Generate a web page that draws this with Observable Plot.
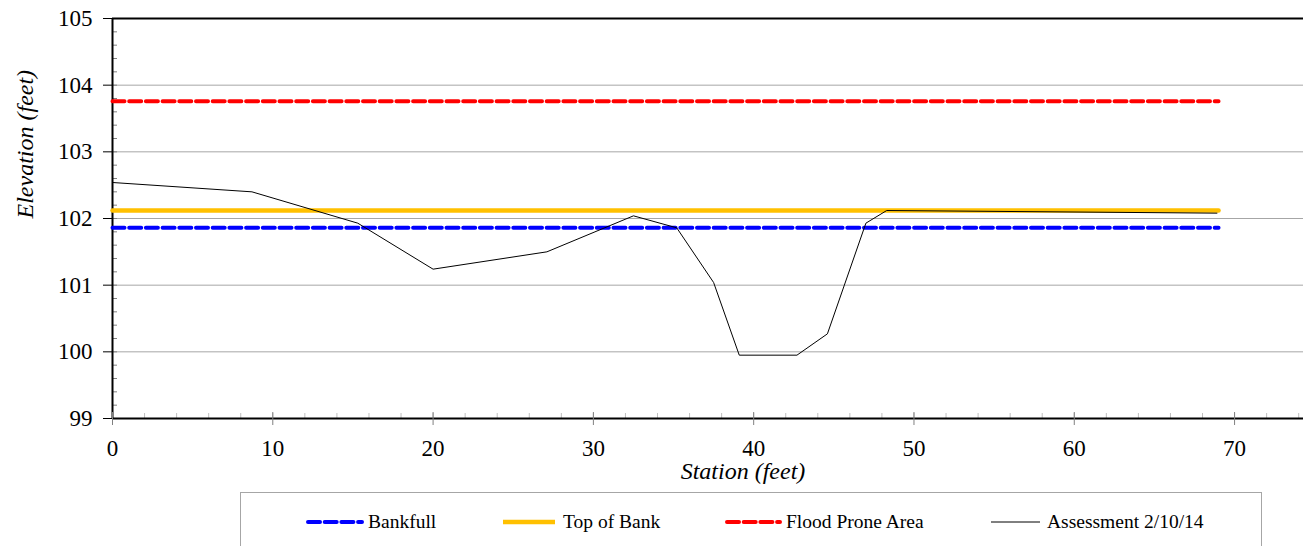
<!DOCTYPE html>
<html><head><meta charset="utf-8">
<script src="https://cdn.jsdelivr.net/npm/d3@7"></script>
<script src="https://cdn.jsdelivr.net/npm/@observablehq/plot@0.6"></script>
<style>
body{margin:0;background:#fff;font-family:"Liberation Serif","Times New Roman",serif;}
#wrap{position:relative;width:1303px;height:546px;overflow:hidden;background:#fff;}
#legend{position:absolute;left:240px;top:492px;width:1022px;height:70px;border:1px solid #a6a6a6;box-sizing:border-box;}
.item{position:absolute;top:17px;height:24px;display:flex;align-items:center;font-size:19.5px;color:#000;white-space:nowrap;}
.item svg{margin-right:4px;}
</style>
</head><body>
<div id="wrap"><div id="chart"></div><div id="legend"></div></div>
<script>
// Assessment survey (station, elevation)
const station   = [0, 8.7, 15.3, 20.0, 27.1, 32.5, 35.2, 37.5, 39.1, 42.7, 44.6, 47.0, 48.3, 68.9];
const elevation = [102.54, 102.40, 101.93, 101.24, 101.50, 102.04, 101.86, 101.04, 99.95, 99.95, 100.27, 101.93, 102.12, 102.08];
// Reference elevations
const refStations = [0, 69];
const bankfullElev = 101.86;
const topOfBankElev = 102.12;
const floodProneElev = 103.76;
const seriesNames = ["Bankfull", "Top of Bank", "Flood Prone Area", "Assessment 2/10/14"];
const seriesColors = ["#0000ff", "#ffc000", "#ff0000", "#000000"];
const xMajor = [0, 10, 20, 30, 40, 50, 60, 70];
const xMinor = d3.range(0, 75, 2);
const yMajor = [99, 100, 101, 102, 103, 104, 105];
const yMinor = d3.range(99, 105.001, 0.2).map(d => +d.toFixed(1));

const FF = "'Liberation Serif', 'Times New Roman', serif";
const survey = station.map((s, i) => ({s, e: elevation[i]}));
const flat = v => refStations.map(s => ({s, e: v}));

const chart = Plot.plot({
  width: 1303, height: 492,
  marginLeft: 112, marginRight: 0, marginTop: 18, marginBottom: 74,
  style: {fontFamily: FF, fontSize: "23px", color: "#000", background: "#fff", overflow: "visible"},
  x: {domain: [0, 74.3], axis: null},
  y: {domain: [99, 105], axis: null},
  marks: [
    Plot.ruleY(yMajor.filter(d => d > 99 && d < 105), {stroke: "#a6a6a6", strokeWidth: 1}),
    // minor ticks
    Plot.axisY(yMinor, {tickSize: 5, dx: 5, tickFormat: () => "", label: null, stroke: "#808080"}),
    Plot.axisX(xMinor, {tickSize: 5, dy: -5, tickFormat: () => "", label: null, stroke: "#bfbfbf"}),
    // frame lines
    Plot.ruleY([105], {stroke: "#000", strokeWidth: 2}),
    Plot.ruleY([99], {stroke: "#000", strokeWidth: 2}),
    Plot.ruleX([0], {stroke: "#000", strokeWidth: 2}),
    // major ticks and labels
    Plot.axisY(yMajor, {tickSize: 9, tickPadding: 11, tickFormat: d => String(d), label: null, fontSize: 23, fontFamily: FF, stroke: "#000", fill: "#000"}),
    Plot.axisX(xMajor, {tickSize: 13, dy: -6, tickFormat: () => "", label: null, stroke: "#808080"}),
    Plot.axisX(xMajor, {tickSize: 0, tickPadding: 21, tickFormat: d => String(d), label: null, fontSize: 23, fontFamily: FF, fill: "#000"}),
    // series
    Plot.lineY(flat(bankfullElev), {x: "s", y: "e", stroke: seriesColors[0], strokeWidth: 4, strokeDasharray: "12,4.7"}),
    Plot.lineY(flat(topOfBankElev), {x: "s", y: "e", stroke: seriesColors[1], strokeWidth: 4.5}),
    Plot.lineY(flat(floodProneElev), {x: "s", y: "e", stroke: seriesColors[2], strokeWidth: 4, strokeDasharray: "12,4.7"}),
    Plot.lineY(survey, {x: "s", y: "e", stroke: seriesColors[3], strokeWidth: 1}),
    // axis titles
    Plot.text(["Station (feet)"], {frameAnchor: "bottom", dy: 53, dx: 35, fontSize: 24, fontFamily: FF, fontStyle: "italic", lineAnchor: "middle", fill: "#000"}),
    Plot.text(["Elevation (feet)"], {frameAnchor: "left", dx: -87, rotate: -90, fontSize: 24, fontFamily: FF, fontStyle: "italic", lineAnchor: "middle", fill: "#000"})
  ]
});
document.getElementById("chart").appendChild(chart);

// Legend
const legendPos = [[65, 4], [260, 6], [484, 4], [748, 5]];
const dashes = ["12,4.7", null, "12,4.7", null];
const widths = [4, 4.5, 4, 1];
const lens = [58, 56, 57, 53];
const legend = document.getElementById("legend");
seriesNames.forEach((name, i) => {
  const div = document.createElement("div");
  div.className = "item";
  div.style.left = legendPos[i][0] + "px";
  const L = lens[i];
  div.innerHTML = `<svg width="${L}" height="10"><line x1="2" x2="${L-2}" y1="5" y2="5" stroke="${seriesColors[i]}" stroke-width="${widths[i]}" ${dashes[i] ? `stroke-dasharray="${dashes[i]}" stroke-linecap="round"` : ""}/></svg><span style="margin-left:${legendPos[i][1]-4}px">${name}</span>`;
  legend.appendChild(div);
});
</script>
</body></html>
